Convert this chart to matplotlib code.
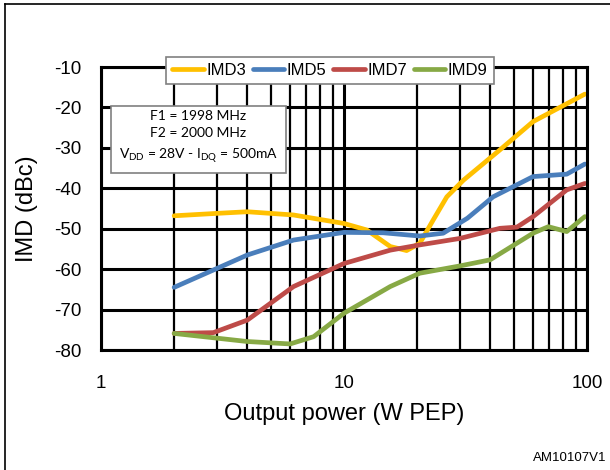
import matplotlib
matplotlib.use("Agg")
from matplotlib import pyplot as plt
from matplotlib.lines import Line2D
import matplotlib.ticker as plticker

plt.rcParams['font.family'] = ['Liberation Sans', 'DejaVu Sans']
plt.rcParams['axes.unicode_minus'] = False

# values (output power W PEP, IMD dBc)
imd3_p = [2, 3, 4, 6.2, 10, 12.4, 15.5, 18.1, 20.5, 23.3, 26.5, 31, 43.8, 60, 98]
imd3_v = [-46.8, -46.2, -45.8, -46.6, -48.7, -50.3, -54.4, -55.4, -53.6, -47.8, -42.1, -38.0, -30.5, -23.5, -16.7]

imd5_p = [2, 4, 6.2, 10, 14.5, 20.5, 25.6, 32.2, 41.1, 60, 82.5, 98]
imd5_v = [-64.5, -56.5, -52.8, -50.9, -51.0, -51.8, -51.1, -47.4, -42.1, -37.1, -36.5, -34.0]

imd7_p = [2, 2.9, 4, 6.2, 10, 15.5, 20.5, 30, 43.8, 51.5, 60, 82.5, 98]
imd7_v = [-75.9, -75.7, -72.6, -64.3, -58.6, -55.3, -54.0, -52.4, -49.9, -49.6, -47.0, -40.4, -38.8]

imd9_p = [2, 4, 6.0, 7.5, 10, 15.5, 20.5, 30, 39.9, 60, 69.3, 82.5, 98]
imd9_v = [-75.9, -77.9, -78.5, -76.7, -70.9, -64.3, -61.0, -59.2, -57.7, -51.1, -49.5, -50.7, -47.0]

fig = plt.figure(figsize=(6.1, 4.7), dpi=100)
ax = fig.add_axes([0.1656, 0.2553, 0.7967, 0.6021])

ax.plot(imd3_p, imd3_v, color='#FFC000', lw=3.4, label='IMD3', solid_capstyle='round', solid_joinstyle='round')
ax.plot(imd5_p, imd5_v, color='#4A7EBB', lw=3.4, label='IMD5', solid_capstyle='round', solid_joinstyle='round')
ax.plot(imd7_p, imd7_v, color='#BE4B48', lw=3.4, label='IMD7', solid_capstyle='round', solid_joinstyle='round')
ax.plot(imd9_p, imd9_v, color='#87A945', lw=3.4, label='IMD9', solid_capstyle='round', solid_joinstyle='round')

ax.set_xscale('log')
ax.set_xlim(1, 100)
ax.set_ylim(-80, -10)
ax.yaxis.set_major_locator(plticker.MultipleLocator(10))
ax.xaxis.set_major_formatter(plticker.FuncFormatter(lambda v, p: '%d' % v))
ax.xaxis.set_minor_formatter(plticker.NullFormatter())
ax.grid(True, which='major', color='black', lw=2.2)
ax.grid(True, which='minor', axis='x', color='black', lw=1.6)
ax.set_axisbelow(True)
for s in ax.spines.values():
    s.set_linewidth(2.2)
ax.tick_params(which='both', length=0, labelsize=13.5)
ax.tick_params(axis='x', pad=18)
ax.tick_params(axis='y', pad=14)

ax.set_xlabel('Output power (W PEP)', fontsize=17, labelpad=8)
ax.set_ylabel('IMD (dBc)', fontsize=17, labelpad=12)

leg = ax.legend(loc='center', bbox_to_anchor=(0.471, 0.988), ncol=4, fontsize=12,
                frameon=True, fancybox=False, handlelength=1.9, handletextpad=0.15,
                columnspacing=0.4, borderpad=0.35)
leg.get_frame().set_edgecolor('#808080')
leg.get_frame().set_linewidth(1.2)
leg.get_frame().set_alpha(1)

ax.text(0.2006, 0.751, 'F1 = 1998 MHz\nF2 = 2000 MHz\n$\\mathregular{V_{DD}}$ = 28V - $\\mathregular{I_{DQ}}$ = 500mA',
        transform=ax.transAxes, ha='center', va='center', fontsize=10, family='Lato',
        linespacing=1.55,
        bbox=dict(boxstyle='square,pad=0.6', fc='white', ec='#808080', lw=1.2))

fig.text(0.995, 0.025, 'AM10107V1', ha='right', va='center', fontsize=9.5)

fig.add_artist(Line2D([5/610, 5/610], [0, 1 - 4/470], color='black', lw=1.2, transform=fig.transFigure))
fig.add_artist(Line2D([5/610, 1], [1 - 4/470, 1 - 4/470], color='black', lw=1.2, transform=fig.transFigure))

plt.savefig('out.png', dpi=100)
